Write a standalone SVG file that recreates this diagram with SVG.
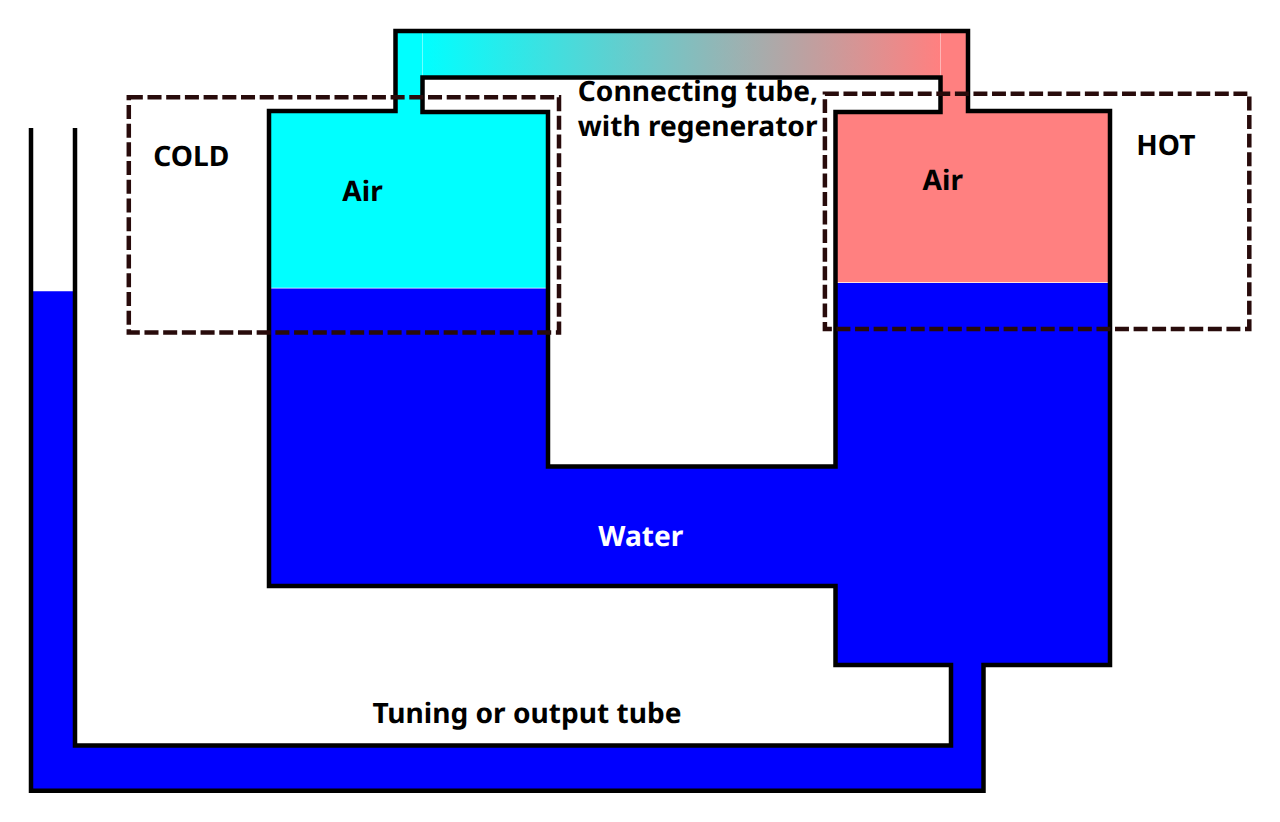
<svg xmlns="http://www.w3.org/2000/svg" width="1280" height="822" viewBox="0 0 1280 822">
<style>
.o{fill:none;stroke:#000;stroke-width:4.5;stroke-linejoin:miter}
.d{fill:none;stroke:#280b0b;stroke-width:4.5}
.t{font-family:"Noto Sans","Open Sans",sans-serif;font-weight:700;font-size:28.100px;fill:#000;text-rendering:geometricPrecision}
.b{fill:#00f}.c{fill:#0ff}.h{fill:#ff8080}
</style>
<defs>
<linearGradient id="g" gradientUnits="userSpaceOnUse" x1="422" y1="0" x2="940" y2="0">
<stop offset="0" stop-color="#0ff"/><stop offset="1" stop-color="#ff8080"/>
</linearGradient>
</defs>
<rect width="1280" height="822" fill="#fff"/>
<g id="fills">
<path class="c" d="M269 111H396V31H422.300V112H548V287.800H269Z"/>
<rect x="422.600" y="31" width="517.800" height="46.500" fill="url(#g)"/>
<path class="h" d="M940.700 31H968V111H1110V282.300H835.500V112H940.700Z"/>
<path class="b" d="M269 288.500H548V466H835.500V283.100H1110V665H983.500V791H31V291.300H75V745.500H951V665H835.500V586H269Z"/>
</g>
<g id="outlines">
<path class="o" d="M75 128V745.500H951V665H835.500V586H269V111H395.500V31H968V111H1110V665H983.500V790.700H31V128"/>
<path class="o" d="M548 112H422.500V77.500H940.500V112H835.500V466.500H548Z"/>
</g>
<g id="regions">
<rect id="cold-region" class="d" x="128.800" y="97.200" width="430.200" height="235.200" stroke-dasharray="14.030 4.670"/>
<rect id="hot-region" class="d" x="824.900" y="93.800" width="424.400" height="235.200" stroke-dasharray="13.930 4.640"/>
</g>
<g id="labels">
<text class="t" x="577.800" y="100.800">Connecting tube,</text>
<text class="t" x="577.800" y="135.800">with regenerator</text>
<text class="t" x="153.300" y="165.800">COLD</text>
<text class="t" x="1136.300" y="154.800">HOT</text>
<text class="t" x="342.300" y="200.500">Air</text>
<text class="t" x="922.600" y="190">Air</text>
<text class="t" x="598.300" y="545.800" style="fill:#fff">Water</text>
<text class="t" x="372.500" y="722.800">Tuning or output tube</text>
</g>
</svg>
